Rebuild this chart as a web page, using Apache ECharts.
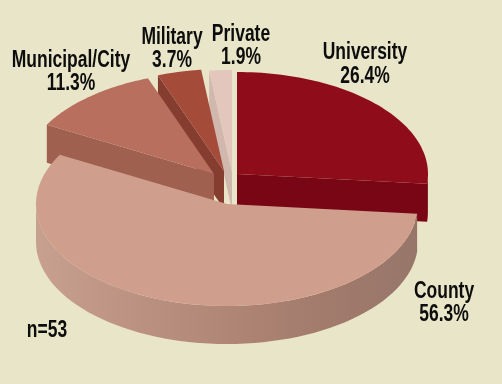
<!DOCTYPE html>
<html>
<head>
<meta charset="utf-8">
<style>html,body{margin:0;padding:0;background:#e9e5c9}#c{width:502px;height:384px}</style>
<script src="https://cdn.jsdelivr.net/npm/echarts@6/dist/echarts.min.js"></script>
</head>
<body>
<div id="c"></div>
<script>
const categories = ['University', 'County', 'Municipal/City', 'Military', 'Private'];
const percents = [26.4, 56.3, 11.3, 3.7, 1.9];
const note = 'n=53';

const topColors = ['#8f0d1b', '#cf9e8c', '#b86f5d', '#a44b3a', '#e3c6bc'];
const wallColors = ['#780614', '#b08676', '#a06050', '#853d30', '#d0b8ae'];
const stacking = [1, 5, 4, 3, 2];
const explode = [[5, 2], [-5, 32], [-18, 2], [-8, -1], [0, 0]];
const labelAt = [[365, 64.5], [444, 303], [71, 72], [172, 49], [241, 46]];
const noteAt = [47, 331];
const squash = 102 / 191, depth = 38, steps = 64;

const total = percents.reduce((a, b) => a + b, 0);
let running = 0;
const rows = percents.map((p, i) => { const r = [running, running + p, 1, i]; running += p; return r; });

const textStyle = (text, x, y) => ({
  type: 'text', z2: 20, silent: true, x, y, scaleX: 0.76, scaleY: 1,
  style: { text, x: 0, y: 0, align: 'center', verticalAlign: 'middle', fill: '#0d0d0d',
    font: 'bold 23px "Liberation Sans", sans-serif', lineHeight: 23.5 }
});

function renderItem(params, api) {
  const i = api.value(3), a0 = api.value(0), a1 = api.value(1);
  const o = api.coord([0, 0]);
  const dx = explode[i][0], dy = explode[i][1];
  const proj = (r, v) => {
    const p = api.coord([r, v]);
    return [o[0] + dx + (p[0] - o[0]), o[1] + dy + (p[1] - o[1]) * squash];
  };
  const arc = (from, to) => {
    const out = [];
    for (let k = 0; k <= steps; k++) out.push(proj(1, from + (to - from) * k / steps));
    return out;
  };
  const drop = pts => pts.map(p => [p[0], p[1] + depth]).reverse();
  const kids = [];
  const z = stacking[i] * 3;
  const gradient = i === 1 ? new echarts.graphic.LinearGradient(0, 0, 1, 0, [
    { offset: 0, color: '#c8a08f' }, { offset: 0.5, color: '#b08676' },
    { offset: 0.75, color: '#a27b6c' }, { offset: 1, color: '#97766a' }
  ]) : wallColors[i];

  const w0 = Math.max(a0, total * 0.25), w1 = Math.min(a1, total * 0.75);
  if (w0 < w1) {
    const top = arc(w0, w1);
    kids.push({ type: 'polygon', z2: z, silent: true,
      shape: { points: top.concat(drop(top)) }, style: { fill: gradient } });
  }
  const face = v => {
    const edge = [proj(0, v), proj(1, v)];
    kids.push({ type: 'polygon', z2: z + 1, silent: true,
      shape: { points: edge.concat(drop(edge)) }, style: { fill: wallColors[i] } });
  };
  const deg = v => v / total * 360;
  if (deg(a1) < 180) face(a1);
  if (deg(a0) > 180) face(a0);

  kids.push({ type: 'polygon', z2: z + 2, silent: true,
    shape: { points: [proj(0, a0)].concat(arc(a0, a1)) }, style: { fill: topColors[i] } });
  kids.push(textStyle(categories[i] + '\n' + percents[i].toFixed(1) + '%', labelAt[i][0], labelAt[i][1]));
  if (i === 0) kids.push(textStyle(note, noteAt[0], noteAt[1]));
  return { type: 'group', children: kids };
}

const chart = echarts.init(document.getElementById('c'), null, { renderer: 'canvas' });
chart.setOption({
  animation: false,
  backgroundColor: '#e9e5c9',
  polar: { center: [232, 172], radius: 191 },
  angleAxis: { show: false, min: 0, max: total, startAngle: 90, clockwise: true },
  radiusAxis: { show: false, min: 0, max: 1 },
  series: [{
    type: 'custom', coordinateSystem: 'polar', clip: false, silent: true,
    encode: { radius: 2, angle: [0, 1] },
    data: rows, renderItem
  }]
});
</script>
</body>
</html>
